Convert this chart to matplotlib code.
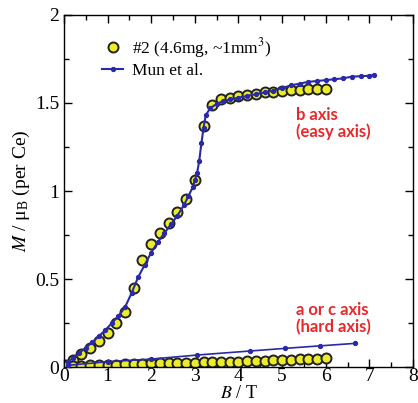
import matplotlib
matplotlib.use('Agg')
import matplotlib.pyplot as plt
from matplotlib.ticker import MultipleLocator

# sample #2, b axis (easy)
b_easy = [0.05, 0.2, 0.4, 0.6, 0.8, 1.0, 1.2, 1.4, 1.6, 1.8, 2.0, 2.2, 2.4, 2.6, 2.8, 3.0,
          3.2, 3.4, 3.6, 3.8, 4.0, 4.2, 4.4, 4.6, 4.8, 5.0, 5.2, 5.4, 5.6, 5.8, 6.0]
m_easy = [0.01, 0.04, 0.074, 0.11, 0.15, 0.195, 0.25, 0.31, 0.45, 0.61, 0.70, 0.76, 0.82, 0.88,
          0.955, 1.06, 1.37, 1.49, 1.52, 1.53, 1.54, 1.545, 1.55, 1.56, 1.565, 1.57, 1.575,
          1.575, 1.58, 1.58, 1.58]

# sample #2, a or c axis (hard)
b_hard = [0.05, 0.2, 0.4, 0.6, 0.8, 1.0, 1.2, 1.4, 1.6, 1.8, 2.0, 2.2, 2.4, 2.6, 2.8, 3.0,
          3.2, 3.4, 3.6, 3.8, 4.0, 4.2, 4.4, 4.6, 4.8, 5.0, 5.2, 5.4, 5.6, 5.8, 6.0]
m_hard = [0.004, 0.006, 0.007, 0.009, 0.010, 0.012, 0.013, 0.015, 0.016, 0.018, 0.020, 0.021,
          0.022, 0.023, 0.024, 0.025, 0.026, 0.028, 0.029, 0.030, 0.031, 0.033, 0.035, 0.036,
          0.038, 0.040, 0.042, 0.044, 0.046, 0.048, 0.052]

# Mun et al. reference curves
mun_b_easy = [0.1, 0.2, 0.35, 0.5, 0.65, 0.8, 0.95, 1.1, 1.25, 1.4, 1.55, 1.7, 1.85, 2.0, 2.15,
              2.3, 2.45, 2.6, 2.75, 2.85, 2.95, 3.0, 3.05, 3.1, 3.15, 3.2, 3.25, 3.35, 3.5, 3.65,
              3.8, 4.0, 4.2, 4.4, 4.6, 4.8, 5.0, 5.2, 5.4, 5.6, 5.8, 6.0, 6.2, 6.4, 6.6, 6.8,
              7.0, 7.1]
mun_m_easy = [0.03, 0.05, 0.08, 0.11, 0.14, 0.175, 0.21, 0.25, 0.29, 0.34, 0.42, 0.51, 0.58,
              0.65, 0.71, 0.76, 0.81, 0.86, 0.92, 0.97, 1.02, 1.06, 1.10, 1.17, 1.27, 1.36,
              1.43, 1.47, 1.495, 1.51, 1.52, 1.53, 1.54, 1.55, 1.56, 1.57, 1.585, 1.60, 1.61,
              1.62, 1.625, 1.63, 1.635, 1.64, 1.65, 1.652, 1.655, 1.66]
mun_b_hard = [0.1, 1.0, 2.0, 3.05, 4.27, 5.07, 5.86, 6.66]
mun_m_hard = [0.01, 0.03, 0.045, 0.068, 0.091, 0.106, 0.12, 0.134]

plt.rcParams['font.family'] = ['Liberation Serif', 'DejaVu Serif']
plt.rcParams['mathtext.fontset'] = 'stix'

fig = plt.figure(figsize=(4.18, 4.03), dpi=100)
ax = fig.add_axes([0.153, 0.0893, 0.835, 0.8735])

blue = '#2a2aa8'
yellow = '#ecec2a'

ax.plot(mun_b_easy, mun_m_easy, '-o', color=blue, lw=1.5, ms=2.8, zorder=3,
        label='Mun et al.')
ax.plot(mun_b_hard, mun_m_hard, '-o', color=blue, lw=1.2, ms=2.8, zorder=3)
ax.plot(b_easy, m_easy, 'o', mfc=yellow, mec='#222222', mew=1.4, ms=7.2, zorder=2,
        label=r'#2 (4.6mg, ~1mm$^3$)')
ax.plot(b_hard, m_hard, 'o', mfc=yellow, mec='#222222', mew=1.4, ms=7.2, zorder=2)

h, l = ax.get_legend_handles_labels()
ax.legend(h[::-1], l[::-1], loc='upper left', bbox_to_anchor=(0.08, 0.97), frameon=False,
          fontsize=12.5, handlelength=1.2, handletextpad=0.5, borderaxespad=0.2,
          labelspacing=0.15)

ax.text(5.33, 1.48, 'b axis\n(easy axis)', color='#e8282a', fontsize=12,
        fontweight='bold', family='Lato', va='top', ha='left', linespacing=1.1)
ax.text(5.33, 0.37, 'a or c axis\n(hard axis)', color='#e8282a', fontsize=12,
        fontweight='bold', family='Lato', va='top', ha='left', linespacing=1.1)

ax.set_xlim(0, 8)
ax.set_ylim(0, 2)
ax.xaxis.set_major_locator(MultipleLocator(1))
ax.xaxis.set_minor_locator(MultipleLocator(0.5))
ax.yaxis.set_major_locator(MultipleLocator(0.5))
ax.yaxis.set_minor_locator(MultipleLocator(0.25))
ax.tick_params(which='both', direction='in', top=True, right=True, labelsize=14, width=1)
ax.tick_params(which='major', length=6)
ax.tick_params(which='minor', length=3.5)
ax.tick_params(axis='x', pad=1)
ax.set_yticks([0, 0.5, 1, 1.5, 2])
ax.set_yticklabels(['0', '0.5', '1', '1.5', '2'])
for s in ax.spines.values():
    s.set_linewidth(1.0)

ax.set_xlabel(r'$B$ / T', fontsize=13, labelpad=0)
ax.set_ylabel(r'$M$ / $\mathregular{\mu_B}$ (per Ce)', fontsize=14, labelpad=2)

fig.savefig('out.png', dpi=100)
